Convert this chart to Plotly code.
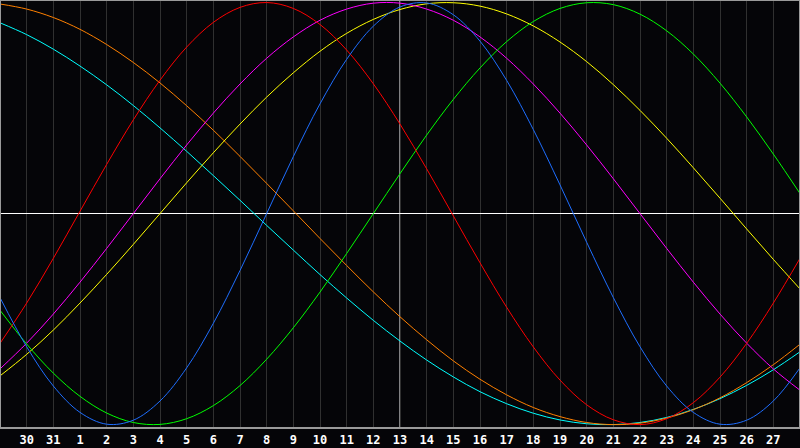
import plotly.graph_objects as go

# day index 0..30 across the window, labels on 1..29
t = list(range(31))
tick_pos = list(range(1, 30))
tick_labels = ["30", "31"] + [str(d) for d in range(1, 28)]

# values, one per day (-1 .. 1)
physical = [-0.398, -0.631, -0.817, -0.942, -0.998, -0.979, -0.888, -0.731, -0.520, -0.270,
            0.0, 0.270, 0.520, 0.731, 0.888, 0.979, 0.998, 0.942, 0.817, 0.631,
            0.398, 0.136, -0.136, -0.398, -0.631, -0.817, -0.942, -0.998, -0.979, -0.888, -0.731]
emotional = [-0.615, -0.424, -0.212, 0.011, 0.233, 0.444, 0.632, 0.789, 0.906, 0.977,
             1.0, 0.972, 0.896, 0.775, 0.615, 0.424, 0.212, -0.011, -0.233, -0.444,
             -0.632, -0.789, -0.906, -0.977, -1.0, -0.972, -0.896, -0.775, -0.615, -0.424, -0.212]
intellectual = [-0.458, -0.618, -0.756, -0.866, -0.945, -0.990, -0.999, -0.972, -0.910, -0.815,
                -0.690, -0.541, -0.372, -0.189, 0.0, 0.189, 0.372, 0.541, 0.690, 0.815,
                0.910, 0.972, 0.999, 0.990, 0.945, 0.866, 0.756, 0.618, 0.458, 0.282, 0.095]
intuitive = [-0.736, -0.614, -0.476, -0.325, -0.165, 0.0, 0.165, 0.325, 0.476, 0.614,
             0.736, 0.837, 0.916, 0.969, 0.997, 0.997, 0.969, 0.916, 0.837, 0.736,
             0.614, 0.476, 0.325, 0.165, 0.0, -0.165, -0.325, -0.476, -0.614, -0.736, -0.837]
aesthetic = [-0.769, -0.667, -0.552, -0.424, -0.288, -0.146, 0.0, 0.146, 0.288, 0.424,
             0.552, 0.667, 0.769, 0.854, 0.920, 0.967, 0.994, 0.999, 0.983, 0.946,
             0.889, 0.813, 0.720, 0.611, 0.489, 0.357, 0.217, 0.073, -0.073, -0.217, -0.357]
awareness = [0.993, 0.969, 0.929, 0.873, 0.801, 0.716, 0.619, 0.511, 0.395, 0.271,
             0.143, 0.013, -0.118, -0.246, -0.371, -0.489, -0.598, -0.698, -0.785, -0.859,
             -0.919, -0.962, -0.990, -1.0, -0.993, -0.969, -0.929, -0.873, -0.801, -0.716, -0.619]
spiritual = [0.904, 0.848, 0.779, 0.699, 0.610, 0.512, 0.406, 0.295, 0.180, 0.063,
             -0.056, -0.173, -0.289, -0.400, -0.506, -0.604, -0.694, -0.774, -0.844, -0.901,
             -0.946, -0.978, -0.996, -1.0, -0.990, -0.966, -0.928, -0.877, -0.814, -0.740, -0.655]

series = [
    ("Spiritual", spiritual, "#00ffff"),
    ("Awareness", awareness, "#ff8000"),
    ("Aesthetic", aesthetic, "#ffff00"),
    ("Intuitive", intuitive, "#ff00ff"),
    ("Intellectual", intellectual, "#00ff00"),
    ("Emotional", emotional, "#ff0000"),
    ("Physical", physical, "#1e6eff"),
]

bg = "#050508"

fig = go.Figure()
for name, vals, col in series:
    fig.add_trace(go.Scatter(x=t, y=vals, name=name, mode="lines",
                             line=dict(color=col, width=1, shape="spline"),
                             hoverinfo="skip"))

# today marker
fig.add_shape(type="line", xref="x", yref="paper", x0=15, x1=15, y0=0, y1=1,
              line=dict(color="white", width=1), layer="below")
# border
fig.add_shape(type="rect", xref="paper", yref="paper", x0=0, x1=1, y0=0, y1=1,
              line=dict(color="#9a9a9a", width=2), layer="above")

fig.update_layout(
    width=800, height=448,
    margin=dict(l=0, r=0, t=0, b=20),
    paper_bgcolor=bg, plot_bgcolor=bg,
    showlegend=False,
    xaxis=dict(range=[0, 30], tickmode="array", tickvals=tick_pos, ticktext=tick_labels,
               showgrid=True, gridcolor="#303030", gridwidth=1, zeroline=False,
               ticks="", ticklabelstandoff=3,
               tickfont=dict(family="DejaVu Sans Mono", size=12, color="white", weight="bold"),
               fixedrange=True),
    yaxis=dict(range=[-1.016, 1.012], showgrid=False, showticklabels=False,
               zeroline=True, zerolinecolor="white", zerolinewidth=1, fixedrange=True),
)

# drop the page's default body margin so the chart fills the window
fig.write_html("out.html", config={"displayModeBar": False},
               post_script="document.body.style.margin='0';document.body.style.background='#050508';")
